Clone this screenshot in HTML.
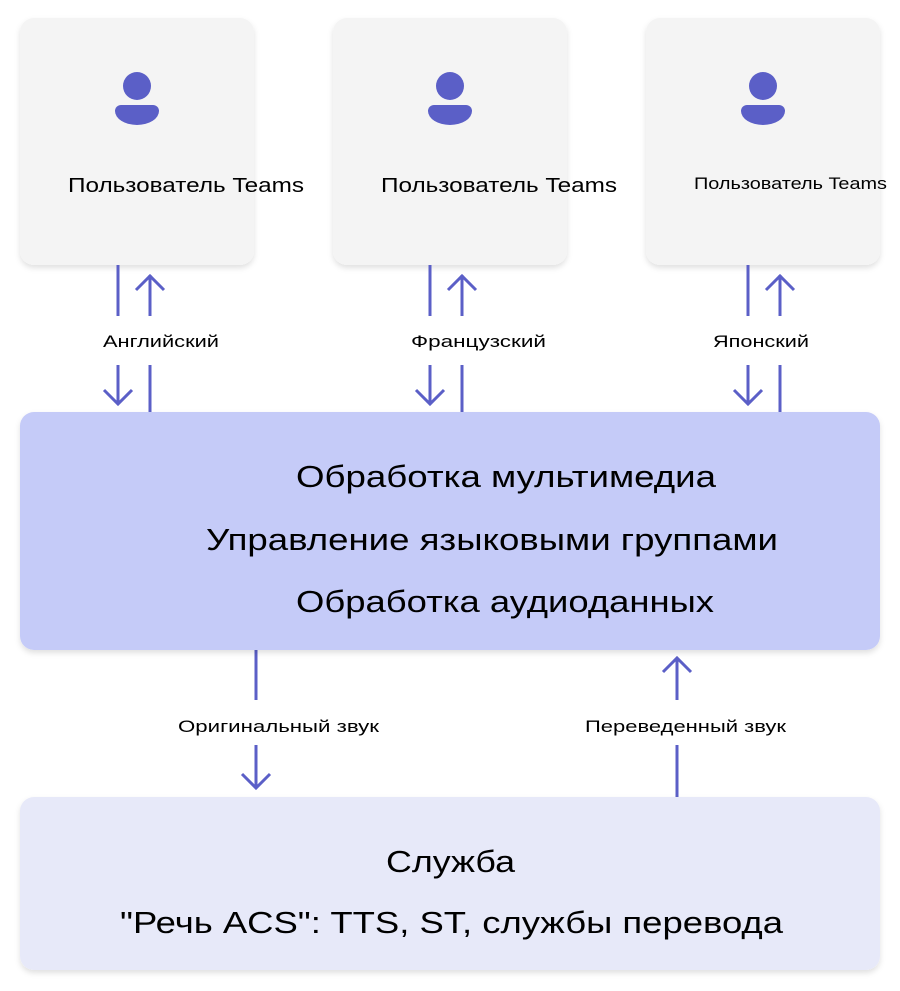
<!DOCTYPE html>
<html><head><meta charset="utf-8"><style>
html,body{margin:0;padding:0;background:#fff;}
svg{display:block;font-family:"Liberation Sans",sans-serif;}
</style></head><body>
<svg width="900" height="991" viewBox="0 0 900 991" xmlns="http://www.w3.org/2000/svg">
<defs>
<filter id="sh" x="-10%" y="-10%" width="120%" height="130%"><feDropShadow dx="0" dy="3" stdDeviation="3" flood-color="#000" flood-opacity="0.12"/></filter>
<g id="user">
<circle cx="0" cy="-14" r="14" fill="#5b5fc7"/>
<path d="M-16 5 H16 A6 6 0 0 1 22 11 A22 14 0 0 1 -22 11 A6 6 0 0 1 -16 5 Z" fill="#5b5fc7"/>
</g>
</defs>
<rect x="20" y="18" width="234" height="247" rx="14" fill="#f4f4f4" filter="url(#sh)"/>
<rect x="333" y="18" width="234" height="247" rx="14" fill="#f4f4f4" filter="url(#sh)"/>
<rect x="646" y="18" width="234" height="247" rx="14" fill="#f4f4f4" filter="url(#sh)"/>
<use href="#user" x="137" y="100"/>
<use href="#user" x="450" y="100"/>
<use href="#user" x="763" y="100"/>
<g fill="#000">
<text x="68" y="192" font-size="20" textLength="236" lengthAdjust="spacingAndGlyphs">Пользователь Teams</text>
<text x="381" y="192" font-size="20" textLength="236" lengthAdjust="spacingAndGlyphs">Пользователь Teams</text>
<text x="694" y="189" font-size="17" textLength="193" lengthAdjust="spacingAndGlyphs">Пользователь Teams</text>
<text x="103" y="347" font-size="17" textLength="116" lengthAdjust="spacingAndGlyphs">Английский</text>
<text x="411" y="347" font-size="17" textLength="135" lengthAdjust="spacingAndGlyphs">Французский</text>
<text x="713" y="347" font-size="17" textLength="96" lengthAdjust="spacingAndGlyphs">Японский</text>
</g>
<g stroke="#5b5fc7" stroke-width="3" fill="none">
<g id="pair">
<line x1="118" y1="265" x2="118" y2="316"/>
<line x1="150" y1="275" x2="150" y2="316"/>
<polyline points="136,290 150,276 164,290"/>
<line x1="118" y1="365" x2="118" y2="404"/>
<polyline points="104,390 118,404 132,390"/>
<line x1="150" y1="365" x2="150" y2="412"/>
</g>
<use href="#pair" x="312"/>
<use href="#pair" x="630"/>
<line x1="256" y1="650" x2="256" y2="700"/>
<line x1="256" y1="745" x2="256" y2="788"/>
<polyline points="242,774 256,788 270,774"/>
<line x1="677" y1="658" x2="677" y2="700"/>
<polyline points="663,672 677,658 691,672"/>
<line x1="677" y1="745" x2="677" y2="797"/>
</g>
<rect x="20" y="412" width="860" height="238" rx="14" fill="#c5cbf8" filter="url(#sh)"/>
<rect x="20" y="797" width="860" height="173" rx="14" fill="#e7e9f9" filter="url(#sh)"/>
<g fill="#000">
<text x="296" y="487" font-size="31" textLength="420" lengthAdjust="spacingAndGlyphs">Обработка мультимедиа</text>
<text x="206" y="550" font-size="31" textLength="572" lengthAdjust="spacingAndGlyphs">Управление языковыми группами</text>
<text x="296" y="612" font-size="31" textLength="418" lengthAdjust="spacingAndGlyphs">Обработка аудиоданных</text>
<text x="178" y="732" font-size="17" textLength="201" lengthAdjust="spacingAndGlyphs">Оригинальный звук</text>
<text x="585" y="732" font-size="17" textLength="201" lengthAdjust="spacingAndGlyphs">Переведенный звук</text>
<text x="386" y="872" font-size="31" textLength="129" lengthAdjust="spacingAndGlyphs">Служба</text>
<text x="120" y="933" font-size="31" textLength="663" lengthAdjust="spacingAndGlyphs">"Речь ACS": TTS, ST, службы перевода</text>
</g>
</svg>
</body></html>
